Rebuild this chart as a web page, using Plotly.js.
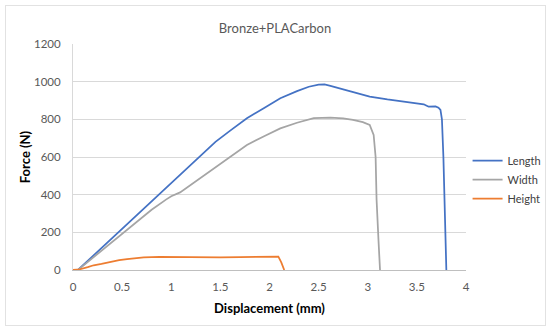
<!DOCTYPE html>
<html>
<head>
<meta charset="utf-8">
<script src="https://cdn.plot.ly/plotly-3.0.1.min.js"></script>
<style>
  html, body { margin: 0; padding: 0; background: #fff; }
  #wrap { position: relative; width: 550px; height: 333px; }
  #chart { width: 550px; height: 333px; }
  #frame { position: absolute; left: 5px; top: 5px; width: 541px; height: 321px;
           border: 1px solid #e2e2e2; pointer-events: none; box-sizing: border-box; }
</style>
</head>
<body>
<div id="wrap">
  <div id="chart"></div>
  <div id="frame"></div>
</div>
<script>
// Length series
const lengthX = [0.05, 0.3, 0.6, 0.9, 1.2, 1.45, 1.6, 1.77, 1.95, 2.11, 2.28, 2.4, 2.5, 2.56, 2.62, 2.68, 2.85, 3.02, 3.2, 3.36, 3.5, 3.57, 3.6, 3.62, 3.69, 3.72, 3.74, 3.755, 3.77, 3.785, 3.80];
const lengthY = [0, 122, 268, 415, 562, 680, 740, 806, 862, 912, 950, 973, 984, 985, 978, 969, 945, 921, 906, 894, 885, 880, 872, 867, 869, 862, 850, 800, 600, 250, 0];

// Width series
const widthX = [0.05, 0.51, 0.8, 0.95, 1.0, 1.09, 1.27, 1.43, 1.6, 1.77, 1.95, 2.11, 2.28, 2.45, 2.62, 2.75, 2.85, 2.95, 3.02, 3.06, 3.08, 3.09, 3.11, 3.125];
const widthY = [0, 195, 320, 375, 392, 412, 480, 540, 600, 664, 712, 752, 782, 806, 809, 805, 797, 785, 770, 717, 600, 372, 150, 0];

// Height series
const heightX = [0, 0.07, 0.15, 0.21, 0.29, 0.38, 0.47, 0.55, 0.63, 0.72, 0.88, 0.97, 1.10, 1.27, 1.50, 1.70, 1.90, 2.05, 2.09, 2.12, 2.15];
const heightY = [0, 4, 15, 25, 32, 44, 52, 58, 62, 67, 70, 69, 70, 66, 67, 68, 69, 69, 71, 40, 0];

// Tick labels
const xTicks = [0, 0.5, 1, 1.5, 2, 2.5, 3, 3.5, 4];
const xTickText = ['0', '0.5', '1', '1.5', '2', '2.5', '3', '3.5', '4'];
const yTicks = [0, 200, 400, 600, 800, 1000, 1200];

const FONT = 'Lato, "Open Sans", sans-serif';

const traces = [
  { x: lengthX, y: lengthY, name: 'Length', mode: 'lines', line: { color: '#4472c4', width: 1.75 } },
  { x: widthX, y: widthY, name: 'Width', mode: 'lines', line: { color: '#a5a5a5', width: 1.75 } },
  { x: heightX, y: heightY, name: 'Height', mode: 'lines', line: { color: '#ed7d31', width: 1.75 } }
];

const layout = {
  width: 550, height: 333,
  margin: { l: 73, r: 84, t: 44, b: 63, autoexpand: false },
  paper_bgcolor: 'rgba(0,0,0,0)',
  plot_bgcolor: '#fff',
  font: { family: FONT, size: 11, color: '#595959' },
  title: { text: 'Bronze+PLACarbon', font: { family: FONT, size: 13, color: '#595959' }, x: 0.5, xanchor: 'center', y: 0.915, yanchor: 'middle' },
  xaxis: {
    range: [0, 4], tickvals: xTicks, ticktext: xTickText,
    showgrid: false, zeroline: false,
    showline: true, linecolor: '#bfbfbf', linewidth: 1,
    ticks: '', ticklabelstandoff: 6, tickfont: { family: FONT, size: 11.5, color: '#595959' },
    title: { text: 'Displacement (mm)', font: { family: FONT, size: 13, color: '#000', weight: 'bold' }, standoff: 12 }
  },
  yaxis: {
    range: [0, 1200], tickvals: yTicks,
    showgrid: true, gridcolor: '#d9d9d9', gridwidth: 1, zeroline: false,
    showline: true, linecolor: '#d9d9d9', linewidth: 1,
    ticks: '', ticklabelstandoff: 9, tickfont: { family: FONT, size: 11.5, color: '#595959' },
    title: { text: 'Force (N)', font: { family: FONT, size: 13, color: '#000', weight: 'bold' }, standoff: 0 }
  },
  showlegend: true,
  legend: {
    x: 1.004, xanchor: 'left', y: 0.40, yanchor: 'middle',
    font: { family: FONT, size: 11, color: '#404040' },
    itemwidth: 30, tracegroupgap: 0, bgcolor: 'rgba(0,0,0,0)'
  }
};

Plotly.newPlot('chart', traces, layout, { displayModeBar: false, staticPlot: true });
</script>
</body>
</html>
